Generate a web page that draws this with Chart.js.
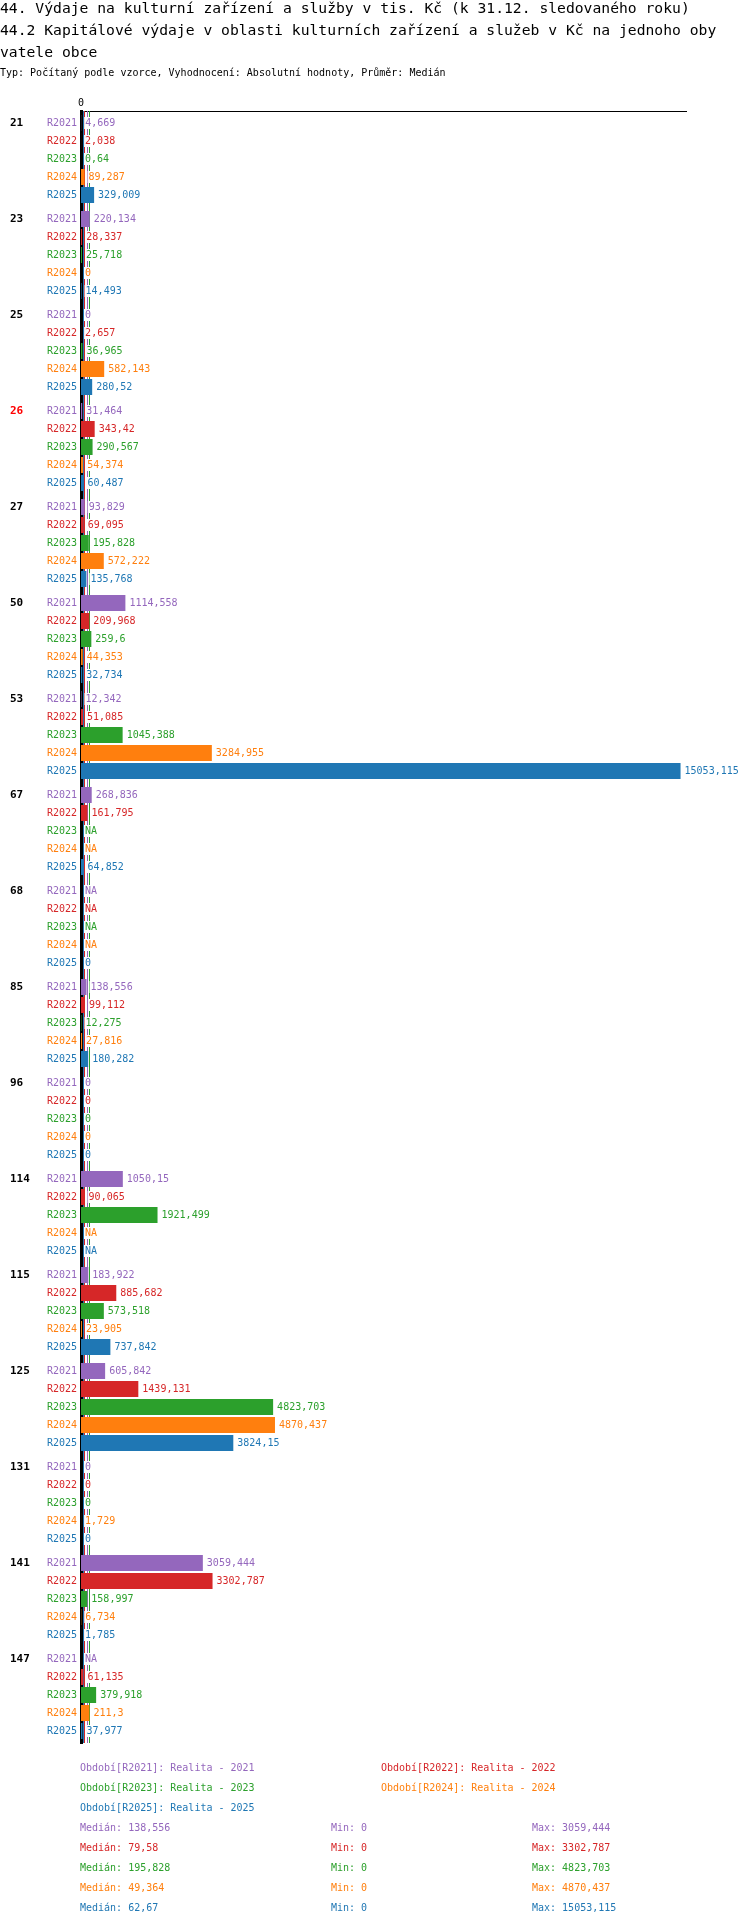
<!DOCTYPE html>
<html>
<head>
<meta charset="utf-8">
<title>44.2 Kapitálové výdaje</title>
<script src="https://cdn.jsdelivr.net/npm/chart.js@4"></script>
<style>
  body { margin: 0; background: #fff; }
  #wrap { position: relative; width: 750px; height: 1926px; font-family: "DejaVu Sans Mono", monospace; color: #000; }
  #graf { position: absolute; left: 0; top: 0; }
  #nadpis { position: absolute; left: 0; top: -3px; font-size: 14.7px; line-height: 22px; white-space: pre; }
  #podnadpis { position: absolute; left: 0; top: 66px; font-size: 10px; line-height: 14px; white-space: pre; }
  #legenda { position: absolute; left: 0; top: 1758px; width: 750px; font-size: 10px; line-height: 20px; }
  .radek { position: relative; height: 20px; }
  .radek span { position: absolute; top: 0; white-space: pre; }
</style>
</head>
<body>
<div id="wrap">
  <canvas id="graf" width="750" height="1926"></canvas>
  <div id="nadpis">44. Výdaje na kulturní zařízení a služby v tis. Kč (k 31.12. sledovaného roku)
44.2 Kapitálové výdaje v oblasti kulturních zařízení a služeb v Kč na jednoho oby
vatele obce</div>
  <div id="podnadpis">Typ: Počítaný podle vzorce, Vyhodnocení: Absolutní hodnoty, Průměr: Medián</div>
  <div id="legenda"></div>
</div>
<script>
// data
var kategorie = ['21', '23', '25', '26', '27', '50', '53', '67', '68', '85', '96', '114', '115', '125', '131', '141', '147'];
var obdobi = ['R2021', 'R2022', 'R2023', 'R2024', 'R2025'];
var popisky = ['Realita - 2021', 'Realita - 2022', 'Realita - 2023', 'Realita - 2024', 'Realita - 2025'];
var r2021 = [4.669, 220.134, 0, 31.464, 93.829, 1114.558, 12.342, 268.836, null, 138.556, 0, 1050.15, 183.922, 605.842, 0, 3059.444, null];
var r2022 = [2.038, 28.337, 2.657, 343.42, 69.095, 209.968, 51.085, 161.795, null, 99.112, 0, 90.065, 885.682, 1439.131, 0, 3302.787, 61.135];
var r2023 = [0.64, 25.718, 36.965, 290.567, 195.828, 259.6, 1045.388, null, null, 12.275, 0, 1921.499, 573.518, 4823.703, 0, 158.997, 379.918];
var r2024 = [89.287, 0, 582.143, 54.374, 572.222, 44.353, 3284.955, null, null, 27.816, 0, null, 23.905, 4870.437, 1.729, 6.734, 211.3];
var r2025 = [329.009, 14.493, 280.52, 60.487, 135.768, 32.734, 15053.115, 64.852, 0, 180.282, 0, null, 737.842, 3824.15, 0, 1.785, 37.977];
var xTicks = [0];
var xMax = 15190;

var rady = [r2021, r2022, r2023, r2024, r2025];
var barvy = ['#9467bd', '#d62728', '#2ca02c', '#ff7f0e', '#1f77b4'];
var zvyraznena = '26';
var pismo = '"DejaVu Sans Mono", monospace';

function cislo(v) {
  if (v == null) return 'NA';
  return String(Math.round(v * 1000) / 1000).replace('.', ',');
}
function platne(a) { return a.filter(function (v) { return v != null; }); }
function median(a) {
  var s = platne(a).sort(function (p, q) { return p - q; });
  var n = s.length;
  return n % 2 ? s[(n - 1) / 2] : (s[n / 2 - 1] + s[n / 2]) / 2;
}

// legenda + statistiky
var leg = document.getElementById('legenda');
var html = '';
for (var i = 0; i < obdobi.length; i += 2) {
  html += '<div class="radek">';
  html += '<span style="left:80px;color:' + barvy[i] + '">Období[' + obdobi[i] + ']: ' + popisky[i] + '</span>';
  if (i + 1 < obdobi.length)
    html += '<span style="left:381px;color:' + barvy[i + 1] + '">Období[' + obdobi[i + 1] + ']: ' + popisky[i + 1] + '</span>';
  html += '</div>';
}
rady.forEach(function (r, i) {
  var p = platne(r);
  html += '<div class="radek" style="color:' + barvy[i] + '">' +
    '<span style="left:80px">Medián: ' + cislo(median(r)) + '</span>' +
    '<span style="left:331px">Min: ' + cislo(Math.min.apply(null, p)) + '</span>' +
    '<span style="left:532px">Max: ' + cislo(Math.max.apply(null, p)) + '</span></div>';
});
leg.innerHTML = html;

// popisky v grafu
var popiskyPlugin = {
  id: 'popisky',
  beforeDatasetsDraw: function (chart) {
    var c = chart.ctx, x = chart.scales.x, a = chart.chartArea;
    c.save();
    c.lineWidth = 1;
    rady.forEach(function (r, i) {
      var px = Math.round(x.getPixelForValue(median(r))) + 0.5;
      c.strokeStyle = barvy[i];
      c.beginPath();
      c.moveTo(px, a.top);
      c.lineTo(px, a.bottom);
      c.stroke();
    });
    c.restore();
  },
  afterDatasetsDraw: function (chart) {
    var c = chart.ctx, x = chart.scales.x;
    var nula = x.getPixelForValue(0);
    c.save();
    c.textBaseline = 'middle';
    chart.data.datasets.forEach(function (ds, i) {
      var meta = chart.getDatasetMeta(i);
      meta.data.forEach(function (bar, j) {
        var v = ds.data[j];
        var y = bar.y;
        c.font = '10px ' + pismo;
        c.fillStyle = barvy[i];
        c.textAlign = 'right';
        c.fillText(obdobi[i], 77, y);
        var t = cislo(v);
        var konec = v == null ? nula : Math.max(bar.x, nula);
        var tx = konec + 4;
        var w = c.measureText(t).width;
        c.fillStyle = '#fff';
        c.fillRect(tx - 1, y - 6, w + 2, 12);
        c.fillStyle = barvy[i];
        c.textAlign = 'left';
        c.fillText(t, tx, y);
        if (i === 0) {
          c.font = 'bold 11px ' + pismo;
          c.fillStyle = kategorie[j] === zvyraznena ? '#ff0000' : '#000';
          c.fillText(kategorie[j], 10, y);
        }
      });
    });
    c.restore();
  }
};

var ctx = document.getElementById('graf').getContext('2d');
var graf = new Chart(ctx, {
  type: 'bar',
  data: {
    labels: kategorie,
    datasets: obdobi.map(function (o, i) {
      return {
        label: o,
        data: rady[i],
        backgroundColor: barvy[i],
        borderWidth: 0,
        categoryPercentage: 0.9375,
        barPercentage: 0.8889
      };
    })
  },
  options: {
    indexAxis: 'y',
    responsive: false,
    animation: false,
    devicePixelRatio: 1,
    layout: { padding: { top: 91, left: 0, right: 64, bottom: 183 } },
    plugins: { legend: { display: false }, tooltip: { enabled: false } },
    scales: {
      x: {
        position: 'top',
        min: 0,
        max: xMax,
        afterBuildTicks: function (s) { s.ticks = xTicks.map(function (v) { return { value: v }; }); },
        afterFit: function (s) { s.height = 20; },
        grid: { display: false, drawTicks: false },
        border: { display: true, color: '#000', width: 1 },
        ticks: { color: '#000', padding: 2, font: { family: pismo, size: 10 } }
      },
      y: {
        z: 1,
        afterFit: function (s) { s.width = 81; },
        ticks: { display: false },
        grid: { display: false, drawTicks: false },
        border: { display: true, color: '#000', width: 3 }
      }
    }
  },
  plugins: [popiskyPlugin]
});
</script>
</body>
</html>
